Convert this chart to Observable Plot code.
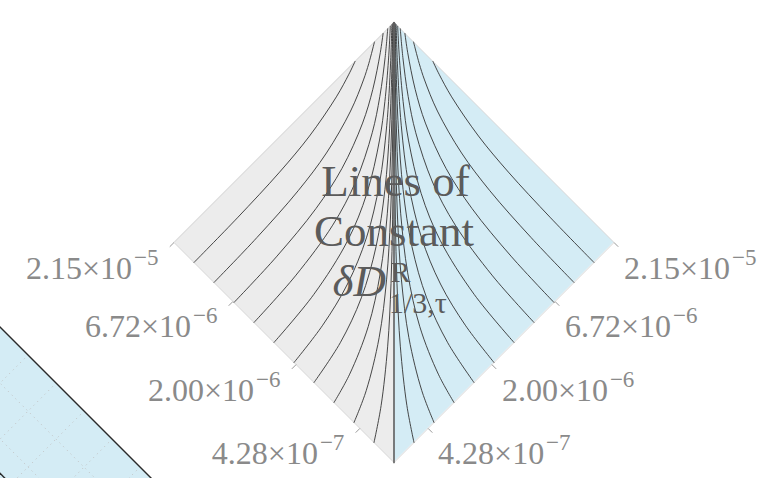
<!DOCTYPE html>
<html><head><meta charset="utf-8">
<script src="https://cdn.jsdelivr.net/npm/d3@7"></script>
<script src="https://cdn.jsdelivr.net/npm/@observablehq/plot@0.6"></script>
<style>html,body{margin:0;padding:0;background:#fff;overflow:hidden}</style>
</head><body><div id="chart"></div>
<script>
// Axis ticks along both lower edges (normalised position from the bottom vertex)
const tickPos = [0.155, 0.445, 0.732, 1.0];
const tickMantissa = ["4.28×10", "2.00×10", "6.72×10", "2.15×10"];
const tickExponent = ["−7", "−6", "−6", "−5"];

// Lines of constant δD (left half), points as [a, b]:
// a = position along lower-left edge, b = position along lower-right edge
const contourLevels = [1, 2, 3, 4, 5, 6, 7, 8, 9, 10];
const contours = [
  [[0.0909,0],[0.1586,0.1],[0.2787,0.25],[0.4135,0.4],[0.5562,0.55],[0.7028,0.7],[0.8513,0.85],[1,1]],
  [[0.1818,0],[0.2264,0.1],[0.3176,0.25],[0.4335,0.4],[0.5659,0.55],[0.7073,0.7],[0.8533,0.85],[1,0.9985]],
  [[0.2727,0],[0.3015,0.1],[0.3673,0.25],[0.4621,0.4],[0.5805,0.55],[0.7144,0.7],[0.8566,0.85],[1,0.9968]],
  [[0.3636,0],[0.3943,0.15],[0.4485,0.3],[0.5315,0.45],[0.6412,0.6],[0.7698,0.75],[0.9091,0.9],[1,0.9944]],
  [[0.4545,0],[0.4741,0.15],[0.5113,0.3],[0.5743,0.45],[0.6663,0.6],[0.7829,0.75],[0.9155,0.9],[1,0.9902]],
  [[0.5455,0],[0.5643,0.2],[0.6099,0.4],[0.6733,0.55],[0.7657,0.7],[0.8414,0.8],[0.9254,0.9],[0.9698,0.95],[1,0.9833]],
  [[0.6364,0],[0.6482,0.2],[0.6787,0.4],[0.7249,0.55],[0.7989,0.7],[0.8643,0.8],[0.9404,0.9],[1,0.9714]],
  [[0.7273,0],[0.7347,0.2],[0.7545,0.4],[0.7866,0.55],[0.8428,0.7],[0.8963,0.8],[0.9624,0.9],[1,0.9505]],
  [[0.8182,0],[0.8228,0.2],[0.8355,0.4],[0.8570,0.55],[0.8974,0.7],[0.9388,0.8],[0.9644,0.85],[1,0.9111]],
  [[0.9091,0],[0.912,0.2],[0.920,0.4],[0.934,0.55],[0.962,0.7],[0.985,0.78],[1,0.823]]
];

// Diamond corners in (a, b)
const cornerNames = ["B", "L", "T", "R"];
const cornerA = [0, 1, 1, 0];
const cornerB = [0, 0, 1, 1];

// Neighbouring panel (partly visible, lower left): edge line x+y=c, gridlines
const neighborEdge = -1.175;
const neighborInner = -1.84;
const neighborGridParallel = [-1.43, -1.684, -1.939, -2.193];
const neighborGridPerp = [2.152, 1.897, 1.643, 1.388, 1.134, 0.879];

const titleLines = ["Lines of", "Constant"];
const titleSymbol = "δD";
const titleSup = "R";
const titleSub = "1/3,τ";

// ---------- build tables ----------
const toX = (a, b) => b - a;
const toY = (a, b) => a + b;
const corner = Object.fromEntries(cornerNames.map((n, i) => [n, {a: cornerA[i], b: cornerB[i]}]));
const P = n => ({x: toX(corner[n].a, corner[n].b), y: toY(corner[n].a, corner[n].b)});

const leftHalf = [{x: P("L").x, y1: P("L").y, y2: P("L").y}, {x: P("B").x, y1: P("B").y, y2: P("T").y}];
const rightHalf = [{x: P("B").x, y1: P("B").y, y2: P("T").y}, {x: P("R").x, y1: P("R").y, y2: P("R").y}];
const outline = ["B", "L", "T", "R", "B"].map(P);
const centerLine = [P("B"), P("T")];

const contourRows = contours.flatMap((pts, i) => pts.map(([a, b]) => ({k: contourLevels[i], a, b})));

const ticks = tickPos.map((t, i) => ({t, m: tickMantissa[i], e: tickExponent[i]}));
const tickLen = 0.0193;

const nbX0 = -2.6, nbX1 = -0.6;
const neighborFill = [{x: nbX0, y1: -0.6, y2: neighborEdge - nbX0}, {x: nbX1, y1: -0.6, y2: neighborEdge - nbX1}];
const seg = (c, d) => ({x: (c - d) / 2, y: (c + d) / 2});
const gridLinks = [
  ...neighborGridParallel.map(c => ({p1: seg(c, 0.5), p2: seg(c, 2.9)})),
  ...neighborGridPerp.map(d => ({p1: seg(neighborEdge - 0.03, d), p2: seg(-2.7, d)}))
];
const edgeLinks = [neighborEdge, neighborInner].map(c => ({p1: seg(c, 0.4), p2: seg(c, 3.0)}));

const serif = "'Liberation Serif', 'Times New Roman', serif";
const labelColor = "#8a8a8a";
const titleColor = "#5b5b5b";

const chart = Plot.plot({
  width: 759, height: 478,
  marginLeft: 173.5, marginRight: 145.5, marginTop: 22, marginBottom: 16,
  x: {domain: [-1, 1], axis: null},
  y: {domain: [0, 2], axis: null},
  style: {background: "white", overflow: "hidden"},
  marks: [
    // neighbour panel
    Plot.areaY(neighborFill, {x: "x", y1: "y1", y2: "y2", fill: "#d4ecf5", curve: "linear"}),
    Plot.link(gridLinks, {x1: d => d.p1.x, y1: d => d.p1.y, x2: d => d.p2.x, y2: d => d.p2.y,
      stroke: "#c4c8ca", strokeWidth: 1, strokeDasharray: "1.2,4"}),
    Plot.link(edgeLinks, {x1: d => d.p1.x, y1: d => d.p1.y, x2: d => d.p2.x, y2: d => d.p2.y,
      stroke: "#2a2a2a", strokeWidth: 1.4}),
    // diamond halves
    Plot.areaY(leftHalf, {x: "x", y1: "y1", y2: "y2", fill: "#ececec", curve: "linear"}),
    Plot.areaY(rightHalf, {x: "x", y1: "y1", y2: "y2", fill: "#d4ecf5", curve: "linear"}),
    Plot.line(outline, {x: "x", y: "y", stroke: "#d6d6d6", strokeWidth: 1}),
    // contour lines
    Plot.line(contourRows, {x: d => toX(d.a, d.b), y: d => toY(d.a, d.b), z: "k",
      curve: "catmull-rom", stroke: "#333", strokeWidth: 0.9}),
    Plot.line(contourRows, {x: d => toX(d.b, d.a), y: d => toY(d.b, d.a), z: "k",
      curve: "catmull-rom", stroke: "#333", strokeWidth: 0.9}),
    Plot.line(centerLine, {x: "x", y: "y", stroke: "#666", strokeWidth: 1.7}),
    // ticks
    Plot.link(ticks, {x1: d => toX(d.t, 0), y1: d => toY(d.t, 0), x2: d => toX(d.t, 0) - tickLen, y2: d => toY(d.t, 0) - tickLen,
      stroke: "#999", strokeWidth: 1}),
    Plot.link(ticks, {x1: d => toX(0, d.t), y1: d => toY(0, d.t), x2: d => toX(0, d.t) + tickLen, y2: d => toY(0, d.t) - tickLen,
      stroke: "#999", strokeWidth: 1}),
    // tick labels, left
    Plot.text(ticks, {x: d => toX(d.t, 0), y: d => toY(d.t, 0), text: "m", textAnchor: "end", lineAnchor: "bottom",
      dx: -42, dy: 36, fontSize: 32, fontFamily: serif, fill: labelColor}),
    Plot.text(ticks, {x: d => toX(d.t, 0), y: d => toY(d.t, 0), text: "e", textAnchor: "start", lineAnchor: "bottom",
      dx: -40, dy: 22, fontSize: 23, fontFamily: serif, fill: labelColor}),
    // tick labels, right
    Plot.text(ticks, {x: d => toX(0, d.t), y: d => toY(0, d.t), text: "m", textAnchor: "start", lineAnchor: "bottom",
      dx: 10, dy: 36, fontSize: 32, fontFamily: serif, fill: labelColor}),
    Plot.text(ticks, {x: d => toX(0, d.t), y: d => toY(0, d.t), text: "e", textAnchor: "start", lineAnchor: "bottom",
      dx: 118, dy: 22, fontSize: 23, fontFamily: serif, fill: labelColor}),
    // title
    Plot.text([titleLines[0]], {frameAnchor: "middle", text: d => d, lineAnchor: "bottom", dx: 1.5, dy: -47,
      fontSize: 45, fontFamily: serif, fill: titleColor}),
    Plot.text([titleLines[1]], {frameAnchor: "middle", text: d => d, lineAnchor: "bottom", dx: 0, dy: 3,
      fontSize: 45, fontFamily: serif, fill: titleColor}),
    Plot.text([titleSymbol], {frameAnchor: "middle", text: d => d, lineAnchor: "bottom", textAnchor: "start", dx: -61.5, dy: 53,
      fontSize: 45, fontStyle: "italic", fontFamily: serif, fill: titleColor}),
    Plot.text([titleSup], {frameAnchor: "middle", text: d => d, lineAnchor: "bottom", textAnchor: "start", dx: -3.5, dy: 39,
      fontSize: 30, fontFamily: serif, fill: titleColor}),
    Plot.text([titleSub], {frameAnchor: "middle", text: d => d, lineAnchor: "bottom", textAnchor: "start", dx: -5, dy: 70,
      fontSize: 30, fontFamily: serif, fill: titleColor})
  ]
});
document.getElementById("chart").appendChild(chart);
</script>
</body></html>
